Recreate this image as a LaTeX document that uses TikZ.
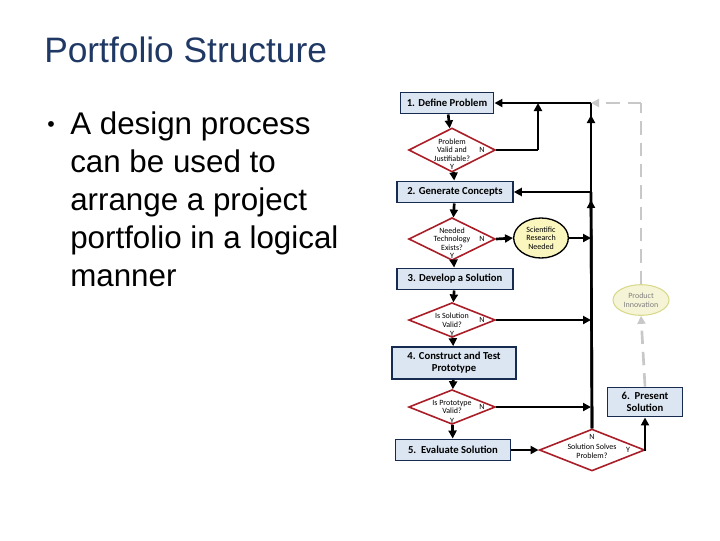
\documentclass[tikz,border=0pt]{standalone}
\usepackage{fontspec}
\setmainfont{Liberation Sans}
\newfontfamily\calfont{Carlito}
\usetikzlibrary{shapes.geometric,arrows.meta}
\definecolor{titleblue}{RGB}{31,56,100}
\definecolor{boxfill}{RGB}{220,230,242}
\definecolor{boxline}{RGB}{23,42,80}
\definecolor{dred}{RGB}{170,30,40}
\definecolor{ellfill}{RGB}{250,246,190}
\definecolor{pale}{RGB}{246,244,214}
\definecolor{dgray}{RGB}{200,200,200}
\begin{document}
\begin{tikzpicture}[x=0.75pt,y=-0.75pt,
 pbox/.style={draw=boxline,line width=1.2pt,fill=boxfill,font=\calfont\bfseries\fontsize{8}{9}\selectfont,align=center,inner sep=0pt},
 dia/.style={diamond,draw=dred,line width=1.2pt,fill=white,aspect=2,inner sep=0pt,font=\calfont\fontsize{6}{6.5}\selectfont,align=center},
 yn/.style={font=\calfont\fontsize{6}{6.5}\selectfont,inner sep=0pt},
 flow/.style={line width=2pt,-{Triangle[length=6pt,width=6pt]}},
 plain/.style={line width=2pt}]
\useasboundingbox (0,0) rectangle (720,540);
\node[anchor=west,text=titleblue,font=\fontsize{26.5}{30}\selectfont,inner sep=0pt] (title) at (44,50) {Portfolio Structure};
\node[anchor=center,font=\fontsize{16}{20}\selectfont,inner sep=0pt] (dot) at (51,127) {•};
\node[anchor=north west,align=left,font=\fontsize{23.5}{28.5}\selectfont,inner sep=0pt] (btext) at (70,112)
 {A design process\\can be used to\\arrange a project\\portfolio in a logical\\manner};
% boxes
\node[pbox,minimum width=70pt,minimum height=16pt] (b1) at (447,103) {1. Define Problem};
\node[pbox,minimum width=87pt,minimum height=16pt] (b2) at (455,192) {2. Generate Concepts};
\node[pbox,minimum width=87pt,minimum height=16pt] (b3) at (455,279) {3. Develop a Solution};
\node[pbox,minimum width=93pt,minimum height=24pt] (b4) at (454,363) {4. Construct and Test\\Prototype};
\node[pbox,minimum width=86pt,minimum height=16pt] (b5) at (453,450) {5.\ \ Evaluate Solution};
\node[pbox,minimum width=56pt,minimum height=22pt] (b6) at (645,402) {6.\ \ Present\\Solution};
% diamonds
\node[dia,minimum width=65pt,minimum height=33pt] (d1) at (452,150) {Problem\\Valid and\\Justifiable?};
\node[dia,minimum width=65pt,minimum height=32pt] (d2) at (452,239) {Needed\\Technology\\Exists?};
\node[dia,minimum width=65pt,minimum height=26pt] (d3) at (452,320) {Is Solution\\Valid?};
\node[dia,minimum width=65pt,minimum height=26pt] (d4) at (452,407) {Is Prototype\\Valid?};
\node[dia,minimum width=79pt,minimum height=26pt] (d5) at (592,450) {\\Solution Solves\\Problem?};
\foreach \d/\dy in {d1/17,d2/17,d3/14,d4/14}{
 \node[yn] at ([xshift=22.5pt]\d.center) {N};
 \node[yn] at ([yshift=-\dy*0.75pt]\d.center) {Y};}
\node[yn] (d5n) at ([yshift=10pt]d5.center) {N};
\node[yn] (d5y) at ([xshift=27pt]d5.center) {Y};
% ellipses
\node[ellipse,draw=black,line width=1pt,fill=ellfill,minimum width=41pt,minimum height=30pt,inner sep=0pt,font=\calfont\fontsize{6}{6.5}\selectfont,align=center] (sr) at (541,238) {Scientific\\Research\\Needed};
\node[ellipse,draw=dgray!70!yellow,line width=0.8pt,fill=pale,text=gray,minimum width=42pt,minimum height=23pt,inner sep=0pt,font=\calfont\fontsize{6}{6.5}\selectfont,align=center] (pi) at (641,300) {Product\\Innovation};
% coordinates
\coordinate (v1) at (591,103);
\coordinate (v2) at (591,192);
\coordinate (k1) at (538,150);
\coordinate (k0) at (538,103);
\coordinate (g1) at (641,103);
% main flow
\draw[flow] (b1) -- (d1);
\draw[flow] (d1) -- (b2);
\draw[flow] (b2) -- (d2);
\draw[flow] (d2) -- (b3);
\draw[flow] (b3) -- (d3);
\draw[flow] (d3) -- (b4);
\draw[flow] (b4) -- (d4);
\draw[flow] (d4) -- (b5);
\draw[flow] (b5) -- (d5);
\draw[flow] (d5.east) -| (b6.south);
% loop back
\draw[plain] (d1.east) -- (k1);
\draw[flow] (k1) -- (k0);
\draw[flow] (v1) -- (b1.east);
\draw[flow] (v2) -- (b2.east);
\draw[plain] (d5.north) -- (v2);
\draw[flow] (d5.north) -- (591,200);
\draw[plain] (v2) -- (v1);
\draw[flow] (v2) -- (591,115);
\draw[flow] (d2.east) -- (sr.west);
\draw[flow] (sr.east) -- (591,238);
\draw[flow] (d3.east) -- (591,320);
\draw[flow] (d4.east) -- (591,407);
% dashed gray
\draw[dgray,line width=2pt,dash pattern=on 10pt off 6pt,-{Triangle[length=6pt,width=6pt]}] (b6.north) -- (pi.south);
\draw[dgray,line width=2pt,dash pattern=on 10pt off 6pt] (pi.north) -- (g1);
\draw[dgray,line width=2pt,dash pattern=on 10pt off 6pt,-{Triangle[length=6pt,width=6pt]}] (g1) -- (v1);
\end{tikzpicture}
\end{document}
